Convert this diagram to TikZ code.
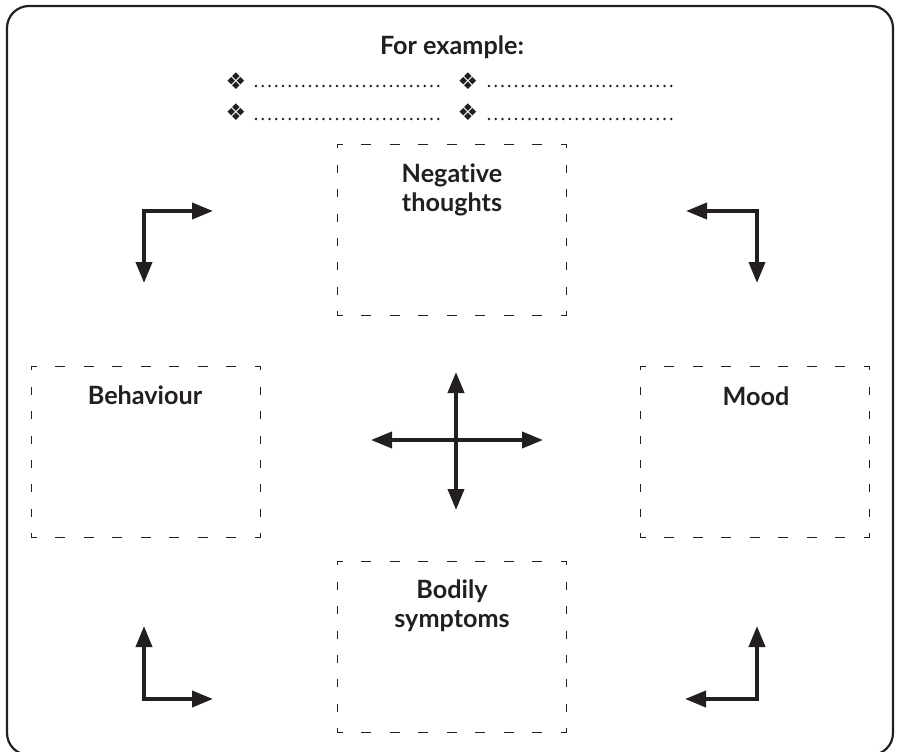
\documentclass[tikz,border=0pt]{standalone}
\usepackage{fontspec}
\setmainfont{Lato}[Ligatures=NoCommon]
\newfontfamily\symfont{DejaVu Sans}
\usetikzlibrary{arrows.meta}
\definecolor{ink}{HTML}{231F20}
\tikzset{
  boxnode/.style={minimum width=228pt, minimum height=171pt, inner sep=0pt, draw=none},
  lbl/.style={font=\fontsize{25.2}{29}\selectfont\bfseries, text=ink, align=center, inner sep=0pt, anchor=base},
  hdash/.style={draw=ink, line width=1.1pt, dash pattern=on 10pt off 18.5pt, dash phase=5pt},
  vdash/.style={draw=ink, line width=1.1pt, dash pattern=on 8pt off 16.43pt, dash phase=4pt},
  arr/.style={draw=ink, line width=3.8pt, line join=miter, {Triangle[length=21pt,width=16pt]}-{Triangle[length=21pt,width=16pt]}},
  bul/.style={font=\symfont\fontsize{23}{23}\selectfont, text=ink, inner sep=0pt},
  dotline/.style={draw=ink, line width=2.6pt, line cap=round, dash pattern=on 0pt off 6.75pt}
}
\newcommand{\dbox}[1]{%
  \draw[hdash] (#1.north west) -- (#1.north east);
  \draw[hdash] (#1.south west) -- (#1.south east);
  \draw[vdash] (#1.north west) -- (#1.south west);
  \draw[vdash] (#1.north east) -- (#1.south east);
}
\begin{document}
\begin{tikzpicture}[x=1pt,y=-1pt]
\useasboundingbox (0,0) rectangle (897,752);
\begin{scope}
\clip (0,0) rectangle (897,752);
\draw[ink, line width=2.2pt, rounded corners=22pt] (7,6) rectangle (893,755);
\end{scope}

% header
\node[lbl] (hdr) at (452,55) {For example:};
\node[bul] (b1) at (236,81) {❖};
\node[bul] (b2) at (468,81) {❖};
\node[bul] (b3) at (236,112) {❖};
\node[bul] (b4) at (468,112) {❖};
\coordinate (d1s) at (256,86);  \coordinate (d1e) at (442,86);
\coordinate (d2s) at (489,86);  \coordinate (d2e) at (677,86);
\coordinate (d3s) at (256,119); \coordinate (d3e) at (442,119);
\coordinate (d4s) at (489,119); \coordinate (d4e) at (677,119);
\draw[dotline] (d1s) -- (d1e);
\draw[dotline] (d2s) -- (d2e);
\draw[dotline] (d3s) -- (d3e);
\draw[dotline] (d4s) -- (d4e);

% boxes
\node[boxnode] (nt) at (452,230) {};
\node[boxnode] (beh) at (146,452) {};
\node[boxnode] (mood) at (755,452) {};
\node[boxnode] (bod) at (452,647) {};
\dbox{nt}\dbox{beh}\dbox{mood}\dbox{bod}

\node[lbl] (ntl) at (452,211) {Negative\\thoughts};
\node[lbl] (behl) at (145,404) {Behaviour};
\node[lbl] (moodl) at (756,405) {Mood};
\node[lbl] (bodl) at (452,627) {Bodily\\symptoms};

% corner arrows
\coordinate (tlc) at (144,211); \coordinate (tlr) at (213,211); \coordinate (tld) at (144,283);
\coordinate (trc) at (757,211); \coordinate (trl) at (686,211); \coordinate (trd) at (757,283);
\coordinate (blc) at (144,699); \coordinate (blu) at (144,626); \coordinate (blr) at (213,699);
\coordinate (brc) at (757,699); \coordinate (bru) at (757,626); \coordinate (brl) at (685,699);
\draw[arr] (tld) -- (tlc) -- (tlr);
\draw[arr] (trl) -- (trc) -- (trd);
\draw[arr] (blu) -- (blc) -- (blr);
\draw[arr] (bru) -- (brc) -- (brl);

% centre cross
\coordinate (cl) at (371,440); \coordinate (cr) at (543,440);
\coordinate (ct) at (456,372); \coordinate (cb) at (456,510);
\draw[arr] (cl) -- (cr);
\draw[arr] (ct) -- (cb);
\end{tikzpicture}
\end{document}
